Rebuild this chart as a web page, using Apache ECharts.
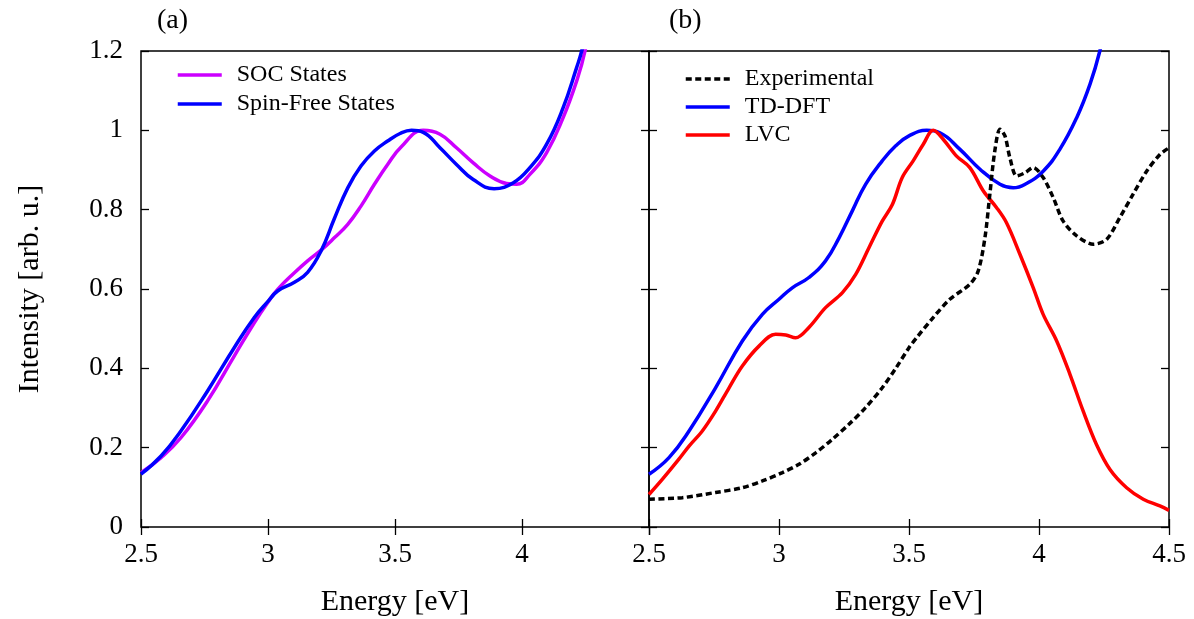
<!DOCTYPE html>
<html>
<head>
<meta charset="utf-8">
<script src="https://cdn.jsdelivr.net/npm/echarts@6/dist/echarts.min.js"></script>
<style>
  html, body { margin: 0; padding: 0; background: #fff; }
  #chart { width: 1194px; height: 619px; }
</style>
</head>
<body>
<div id="chart"></div>
<script>
// Panel (a): SOC vs spin-free spectra
const socEnergy = [2.5, 2.579, 2.657, 2.762, 2.867, 2.946, 2.999, 3.038, 3.104, 3.156, 3.209, 3.261, 3.314, 3.366, 3.419, 3.471, 3.524, 3.611, 3.677, 3.742, 3.808, 3.874, 3.939, 3.979, 4.031, 4.097, 4.162, 4.215, 4.248, 4.28];
const socIntensity = [0.137, 0.175, 0.225, 0.318, 0.431, 0.515, 0.566, 0.599, 0.641, 0.671, 0.698, 0.729, 0.763, 0.809, 0.864, 0.914, 0.958, 1.0, 0.990, 0.956, 0.918, 0.885, 0.866, 0.864, 0.889, 0.944, 1.032, 1.124, 1.2, 1.32];

const sfEnergy = [2.5, 2.579, 2.657, 2.762, 2.867, 2.946, 2.999, 3.038, 3.104, 3.156, 3.209, 3.261, 3.314, 3.366, 3.419, 3.471, 3.520, 3.565, 3.611, 3.677, 3.742, 3.808, 3.890, 3.966, 4.031, 4.097, 4.162, 4.215, 4.235, 4.27];
const sfIntensity = [0.133, 0.179, 0.242, 0.343, 0.452, 0.528, 0.568, 0.595, 0.617, 0.642, 0.696, 0.777, 0.855, 0.910, 0.948, 0.973, 0.992, 1.0, 0.995, 0.956, 0.914, 0.876, 0.853, 0.868, 0.906, 0.965, 1.057, 1.158, 1.2, 1.30];

// Panel (b): experiment vs TD-DFT vs LVC
const expEnergy = [2.5, 2.628, 2.756, 2.859, 2.936, 3.013, 3.077, 3.141, 3.205, 3.269, 3.333, 3.397, 3.449, 3.5, 3.529, 3.593, 3.657, 3.734, 3.766, 3.792, 3.811, 3.830, 3.850, 3.869, 3.888, 3.914, 3.946, 3.978, 4.016, 4.055, 4.093, 4.145, 4.209, 4.260, 4.311, 4.362, 4.414, 4.465, 4.5];
const expIntensity = [0.070, 0.074, 0.087, 0.099, 0.116, 0.137, 0.158, 0.187, 0.221, 0.259, 0.301, 0.351, 0.400, 0.452, 0.477, 0.528, 0.574, 0.612, 0.645, 0.729, 0.839, 0.948, 1.003, 0.986, 0.931, 0.885, 0.893, 0.906, 0.881, 0.830, 0.771, 0.734, 0.713, 0.725, 0.780, 0.839, 0.897, 0.939, 0.956];

const tddftEnergy = [2.5, 2.577, 2.654, 2.756, 2.859, 2.936, 3.0, 3.051, 3.115, 3.179, 3.231, 3.282, 3.333, 3.397, 3.449, 3.5, 3.568, 3.619, 3.696, 3.773, 3.850, 3.901, 3.952, 4.016, 4.080, 4.145, 4.196, 4.234, 4.27];
const tddftIntensity = [0.133, 0.175, 0.242, 0.351, 0.469, 0.536, 0.574, 0.603, 0.629, 0.671, 0.729, 0.797, 0.864, 0.923, 0.961, 0.986, 1.0, 0.994, 0.952, 0.902, 0.864, 0.855, 0.866, 0.897, 0.952, 1.032, 1.116, 1.2, 1.31];

const lvcEnergy = [2.5, 2.551, 2.615, 2.654, 2.705, 2.756, 2.808, 2.859, 2.923, 2.987, 3.026, 3.064, 3.115, 3.179, 3.244, 3.295, 3.346, 3.397, 3.436, 3.474, 3.516, 3.555, 3.593, 3.632, 3.683, 3.734, 3.786, 3.837, 3.875, 3.927, 3.978, 4.016, 4.068, 4.119, 4.170, 4.221, 4.273, 4.337, 4.401, 4.465, 4.5];
const lvcIntensity = [0.082, 0.120, 0.171, 0.204, 0.242, 0.292, 0.351, 0.406, 0.456, 0.486, 0.484, 0.477, 0.503, 0.553, 0.591, 0.637, 0.704, 0.771, 0.813, 0.881, 0.923, 0.965, 1.0, 0.977, 0.935, 0.906, 0.847, 0.805, 0.767, 0.687, 0.603, 0.536, 0.469, 0.385, 0.292, 0.208, 0.145, 0.099, 0.070, 0.053, 0.042];

const energyTicks = { min: 2.5, max: 4.5, interval: 0.5 };
const intensityTicks = { min: 0, max: 1.2, interval: 0.2 };

const FONT = '"Liberation Serif", "DejaVu Serif", serif';
const pairs = (xs, ys) => xs.map((x, i) => [x, ys[i]]);

const tickIn = { show: true, inside: true, length: 8, lineStyle: { color: '#000', width: 1.3 } };
const noLine = { show: false };

function xAxisFor(grid, position, labels, name, showMax) {
  return {
    type: 'value', gridIndex: grid, position: position,
    min: energyTicks.min, max: energyTicks.max, interval: energyTicks.interval,
    axisLine: noLine, axisTick: tickIn, splitLine: noLine,
    axisLabel: labels ? {
      show: true, margin: 14, color: '#000', fontFamily: FONT, fontSize: 27,
      showMinLabel: true, showMaxLabel: showMax
    } : { show: false },
    name: name || '', nameLocation: 'middle', nameGap: 60,
    nameTextStyle: { color: '#000', fontFamily: FONT, fontSize: 30 }
  };
}
function yAxisFor(grid, position, labels, name) {
  return {
    type: 'value', gridIndex: grid, position: position,
    min: intensityTicks.min, max: intensityTicks.max, interval: intensityTicks.interval,
    axisLine: noLine, axisTick: tickIn, splitLine: noLine,
    axisLabel: labels ? { show: true, margin: 18, color: '#000', fontFamily: FONT, fontSize: 27 } : { show: false },
    name: name || '', nameLocation: 'middle', nameGap: 96,
    nameTextStyle: { color: '#000', fontFamily: FONT, fontSize: 30 }
  };
}

function lineSeries(name, xi, yi, data, color, dashed, smooth) {
  return {
    name: name, type: 'line', xAxisIndex: xi, yAxisIndex: yi,
    data: data, showSymbol: false, symbol: 'none', smooth: smooth, clip: true,
    lineStyle: { color: color, width: 3.5, type: dashed ? [6, 3.5] : 'solid', cap: 'butt' },
    itemStyle: { color: color },
    emphasis: { disabled: true }, z: dashed ? 3 : 2
  };
}

const legendBase = {
  orient: 'vertical', padding: 0, align: 'left',
  itemWidth: 44, itemHeight: 14, itemTextGap: 16, selectedMode: false,
  itemStyle: { opacity: 0, borderWidth: 0 },
  lineStyle: { width: 3.5 }
};
const legendText = { fontFamily: FONT, fontSize: 24, color: '#000', padding: [0, 0, 0, 10] };

const chart = echarts.init(document.getElementById('chart'), null, { renderer: 'canvas' });
chart.setOption({
  animation: false,
  backgroundColor: '#fff',
  title: [
    { text: '(a)', left: 157, top: 7, padding: 0, textStyle: { fontFamily: FONT, fontSize: 28, fontWeight: 'normal', color: '#000' } },
    { text: '(b)', left: 669, top: 7, padding: 0, textStyle: { fontFamily: FONT, fontSize: 28, fontWeight: 'normal', color: '#000' } }
  ],
  grid: [
    { left: 141, top: 51, width: 508, height: 476, outerBoundsMode: 'none', show: true, borderColor: '#000', borderWidth: 1.5, backgroundColor: 'transparent' },
    { left: 649, top: 51, width: 520, height: 476, outerBoundsMode: 'none', show: true, borderColor: '#000', borderWidth: 1.5, backgroundColor: 'transparent' }
  ],
  xAxis: [
    xAxisFor(0, 'bottom', true, 'Energy [eV]', false),
    xAxisFor(0, 'top', false),
    xAxisFor(1, 'bottom', true, 'Energy [eV]', true),
    xAxisFor(1, 'top', false)
  ],
  yAxis: [
    yAxisFor(0, 'left', true, 'Intensity [arb. u.]'),
    yAxisFor(0, 'right', false),
    yAxisFor(1, 'left', false),
    yAxisFor(1, 'right', false)
  ],
  legend: [
    Object.assign({}, legendBase, {
      data: ['SOC States', 'Spin-Free States'], left: 176, top: 63, itemGap: 5,
      textStyle: legendText
    }),
    Object.assign({}, legendBase, {
      data: ['Experimental', 'TD-DFT', 'LVC'], left: 684, top: 67, itemGap: 4,
      textStyle: legendText
    })
  ],
  series: [
    lineSeries('SOC States', 0, 0, pairs(socEnergy, socIntensity), '#cc00ff', false, 0.45),
    lineSeries('Spin-Free States', 0, 0, pairs(sfEnergy, sfIntensity), '#0000ff', false, 0.45),
    lineSeries('Experimental', 2, 2, pairs(expEnergy, expIntensity), '#000000', true, 0.3),
    lineSeries('TD-DFT', 2, 2, pairs(tddftEnergy, tddftIntensity), '#0000ff', false, 0.45),
    lineSeries('LVC', 2, 2, pairs(lvcEnergy, lvcIntensity), '#ff0000', false, 0.35)
  ]
});
</script>
</body>
</html>
